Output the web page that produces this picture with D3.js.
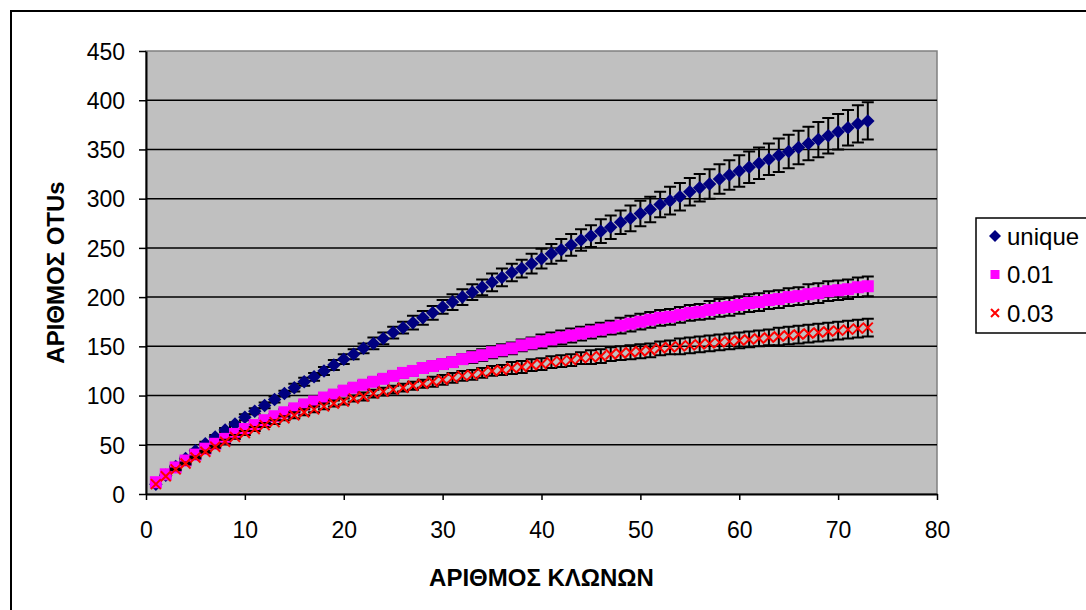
<!DOCTYPE html>
<html>
<head>
<meta charset="utf-8">
<script src="https://cdn.jsdelivr.net/npm/d3@7"></script>
<style>
  body { margin: 0; background: #fff; }
  svg { display: block; font-family: Arial, "Liberation Sans", sans-serif; }
</style>
</head>
<body>
<div id="chart"></div>
<script>
// rarefaction data (x = 1..73)
const clones = d3.range(1, 74);

const uniqueVals = [10,19,28,36,44,51,58,65,71,78,84,90,96,102,108,114,119,125,131,137,
  142,148,153,158,164,169,174,179,184,190,195,200,205,210,215,220,225,229,234,239,
  244,248,253,258,262,267,271,276,280,285,289,294,298,302,307,311,315,320,324,328,
  332,336,340,344,348,352,356,360,364,368,372,376,379];
const uniqueErr = [0,1,1,1,1,2,2,2,2,3,3,3,3,3,4,4,4,4,5,5,
  5,5,6,6,6,6,7,7,7,7,8,8,8,8,9,9,9,9,10,10,
  10,11,11,11,11,12,12,12,13,13,13,13,14,14,14,14,15,15,15,16,
  16,16,16,17,17,17,17,18,18,18,18,19,19];

const p01Vals = [12,20,27,34,40,46,51,56,61,66,70,75,79,83,87,91,94,98,101,105,
  108,111,114,117,120,123,125,128,130,132,134,137,139,141,144,146,148,151,153,155,
  157,159,161,163,165,167,169,171,173,175,177,179,180,182,184,185,187,189,190,192,
  194,195,197,198,200,201,203,204,206,207,208,210,211];
const p01Err = [0,0,1,1,1,1,1,2,2,2,2,2,2,3,3,3,3,3,3,4,
  4,4,4,4,4,5,5,5,5,5,5,5,6,6,6,6,6,6,6,7,
  7,7,7,7,7,7,7,8,8,8,8,8,8,8,8,8,9,9,9,9,
  9,9,9,9,9,9,10,10,10,10,10,10,10];

const p03Vals = [10,18,25,31,37,43,48,53,58,62,66,70,73,77,80,83,86,89,92,94,
  97,99,102,104,106,108,110,112,114,116,118,120,121,123,125,126,128,129,131,132,
  134,135,136,138,139,140,142,143,144,145,146,148,149,150,151,152,153,154,155,156,
  157,158,159,160,161,162,163,164,165,166,167,168,169];
const p03Err = [0,0,1,1,1,1,1,2,2,2,2,2,2,2,3,3,3,3,3,3,
  3,4,4,4,4,4,4,4,5,5,5,5,5,5,5,5,6,6,6,6,
  6,6,6,6,7,7,7,7,7,7,7,7,7,8,8,8,8,8,8,8,
  8,8,8,9,9,9,9,9,9,9,9,9,9];

const seriesNames = ["unique", "0.01", "0.03"];
const xTicks = [0,10,20,30,40,50,60,70,80];
const yTicks = [0,50,100,150,200,250,300,350,400,450];
const xTitle = "ΑΡΙΘΜΟΣ ΚΛΩΝΩΝ";
const yTitle = "ΑΡΙΘΜΟΣ OTUs";

const series = [
  {name: seriesNames[0], vals: uniqueVals, err: uniqueErr, shape: "diamond", color: "#000080"},
  {name: seriesNames[1], vals: p01Vals, err: p01Err, shape: "square", color: "#FF00FF"},
  {name: seriesNames[2], vals: p03Vals, err: p03Err, shape: "cross", color: "#FF0000"}
];

const W = 1086, H = 610;
const plot = {left: 146, top: 51, right: 937, bottom: 494};

const svg = d3.select("#chart").append("svg")
  .attr("width", W)
  .attr("height", H);

// outer chart frame (right/bottom edges fall outside the window)
svg.append("rect")
  .attr("x", 11).attr("y", 11)
  .attr("width", 1100).attr("height", 620)
  .attr("fill", "#fff")
  .attr("stroke", "#000")
  .attr("stroke-width", 2);

const x = d3.scaleLinear().domain([0, 80]).range([plot.left, plot.right]);
const y = d3.scaleLinear().domain([0, 450]).range([plot.bottom, plot.top]);

// plot background
svg.append("rect")
  .attr("x", plot.left).attr("y", plot.top)
  .attr("width", plot.right - plot.left)
  .attr("height", plot.bottom - plot.top)
  .attr("fill", "#C0C0C0")
  .attr("stroke", "#808080")
  .attr("stroke-width", 1.5);

// gridlines
svg.append("g")
  .selectAll("line")
  .data(yTicks.filter(d => d > 0 && d < 450))
  .join("line")
    .attr("x1", plot.left).attr("x2", plot.right)
    .attr("y1", d => y(d)).attr("y2", d => y(d))
    .attr("stroke", "#000")
    .attr("stroke-width", 1.5);

// axes
const xAxis = svg.append("g")
  .attr("transform", `translate(0,${plot.bottom})`)
  .call(d3.axisBottom(x).tickValues(xTicks).tickSize(6).tickPadding(22).tickSizeOuter(0));
const yAxis = svg.append("g")
  .attr("transform", `translate(${plot.left},0)`)
  .call(d3.axisLeft(y).tickValues(yTicks).tickSize(7).tickPadding(14).tickSizeOuter(0));

[xAxis, yAxis].forEach(a => {
  a.select(".domain").attr("stroke", "#000").attr("stroke-width", 2);
  a.selectAll(".tick line").attr("stroke", "#000").attr("stroke-width", 1.5);
  a.selectAll(".tick text")
    .attr("fill", "#000")
    .style("font-size", "23px")
    .style("font-family", "Arial, 'Liberation Sans', sans-serif");
});
yAxis.selectAll(".tick text").attr("dy", "0.36em");

// axis titles
svg.append("text")
  .attr("x", (plot.left + plot.right) / 2)
  .attr("y", 586)
  .attr("text-anchor", "middle")
  .style("font-size", "24px")
  .style("font-weight", "bold")
  .text(xTitle);

svg.append("text")
  .attr("transform", `translate(64,${(plot.top + plot.bottom) / 2}) rotate(-90)`)
  .attr("text-anchor", "middle")
  .style("font-size", "24px")
  .style("font-weight", "bold")
  .text(yTitle);

function drawMarker(sel, shape, color, size) {
  const h = size / 2;
  if (shape === "diamond") {
    sel.append("path")
      .attr("d", `M0,${-h}L${h},0L0,${h}L${-h},0Z`)
      .attr("fill", color);
  } else if (shape === "square") {
    sel.append("rect")
      .attr("x", -h).attr("y", -h)
      .attr("width", size).attr("height", size)
      .attr("fill", color);
  } else {
    sel.append("path")
      .attr("d", `M${-h},${-h}L${h},${h}M${-h},${h}L${h},${-h}`)
      .attr("stroke", color)
      .attr("stroke-width", 2)
      .attr("fill", "none");
  }
}

const capW = 6;
series.forEach(s => {
  const pts = clones.map((c, i) => ({x: c, v: s.vals[i], e: s.err[i]}));
  const g = svg.append("g");

  // error bars
  g.selectAll(".err")
    .data(pts.filter(d => d.e > 0))
    .join("path")
    .attr("class", "err")
    .attr("d", d => {
      const cx = x(d.x), t = y(d.v + d.e), b = y(d.v - d.e);
      return `M${cx},${t}V${b}M${cx - capW},${t}H${cx + capW}M${cx - capW},${b}H${cx + capW}`;
    })
    .attr("stroke", "#000")
    .attr("stroke-width", 2)
    .attr("fill", "none");

  // markers
  const size = s.shape === "diamond" ? 13.5 : (s.shape === "square" ? 12 : 10);
  g.selectAll(".pt")
    .data(pts)
    .join("g")
    .attr("class", "pt")
    .attr("transform", d => `translate(${x(d.x)},${y(d.v)})`)
    .each(function() { drawMarker(d3.select(this), s.shape, s.color, size); });
});

// legend
const legend = svg.append("g");
legend.append("rect")
  .attr("x", 976).attr("y", 218)
  .attr("width", 140).attr("height", 115)
  .attr("fill", "#fff")
  .attr("stroke", "#000")
  .attr("stroke-width", 1.5);

series.forEach((s, i) => {
  const ly = 236 + i * 38.5;
  const item = legend.append("g").attr("transform", `translate(0,${ly})`);
  const mg = item.append("g").attr("transform", "translate(995,0)");
  const size = s.shape === "diamond" ? 12 : (s.shape === "square" ? 9 : 8);
  drawMarker(mg, s.shape, s.color, size);
  item.append("text")
    .attr("x", 1007)
    .attr("y", 0)
    .attr("dy", "0.36em")
    .style("font-size", "24px")
    .text(s.name);
});
</script>
</body>
</html>
